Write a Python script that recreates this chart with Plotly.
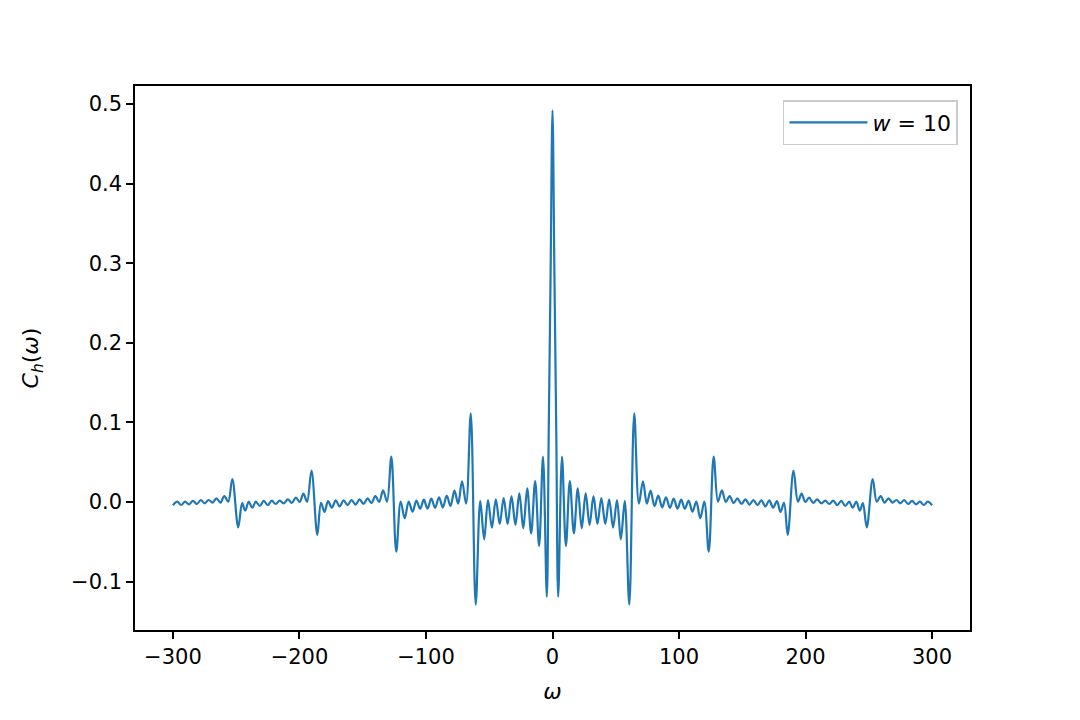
import plotly.graph_objects as go

# Extrema / shape points (omega, C_h(omega))
omega_left = [-300.0, -296.6, -293.5, -290.4, -287.3, -284.2, -281.1, -278.0, -274.9, -271.8, -268.7, -265.6, -262.5, -259.4, -256.3,
              -253.1, -248.4, -245.3, -242.9, -240.1, -237.3, -234.5, -231.4, -228.2, -225.1, -221.9, -218.8, -215.6, -212.5, -209.2, -206.1, -202.8, -199.8, -196.9, -194.0,
              -190.5, -185.9, -183.0, -180.2, -177.4, -174.4, -171.3, -168.3, -165.1, -162.0, -158.8, -155.7, -152.5, -149.4, -146.2, -143.1, -140.0, -137.0, -133.9, -130.8,
              -127.4, -123.5, -120.0, -116.8, -113.7, -110.6, -107.6, -104.6, -101.7, -98.8, -95.8, -92.8, -89.7, -86.7, -83.6, -80.6, -77.5, -74.6, -71.5, -68.3,
              -64.6, -60.7, -57.1, -54.0, -51.0, -47.9, -44.8, -41.7, -38.6, -35.5, -32.4, -29.3, -26.2, -23.1, -20.0, -16.9, -13.7, -10.6, -7.5, -4.5, -3.0, -1.5]
c_left = [-0.004, 0.0004, -0.0038, 0.0004, -0.0029, 0.0013, -0.0025, 0.0025, -0.0017, 0.0025, -0.0008, 0.0046, -0.0008, 0.0075, 0.0004,
          0.0289, -0.0318, -0.0013, -0.0109, 0.0004, -0.0071, 0.0004, -0.005, 0.0013, -0.0038, 0.0017, -0.0025, 0.0017, -0.0017, 0.0034, -0.0012, 0.0054, 0.0, 0.0105, 0.0004,
          0.0393, -0.0415, -0.001, -0.0125, 0.001, -0.007, 0.002, -0.0055, 0.002, -0.004, 0.0025, -0.0033, 0.0034, -0.0025, 0.0046, -0.0013, 0.0075, 0.0, 0.0146, 0.0004,
          0.0569, -0.0624, 0.0004, -0.0205, 0.0004, -0.0122, 0.0017, -0.0085, 0.0030, -0.0084, 0.0042, -0.0075, 0.0059, -0.0067, 0.0079, -0.005, 0.0142, -0.002, 0.026, -0.002,
          0.1114, -0.129, 0.0013, -0.0469, 0.0025, -0.0322, 0.0034, -0.0276, 0.0050, -0.0276, 0.0075, -0.0289, 0.0109, -0.0331, 0.0172, -0.0394, 0.0264, -0.0553, 0.057, -0.119, 0.085, 0.288]

omega_right = [0.0, 1.5, 3.0, 4.5, 7.5, 10.6, 13.7, 16.9, 20.0, 23.1, 26.2, 29.3, 32.4, 35.5, 38.6, 41.7, 44.8, 47.9, 51.0, 54.0, 57.1, 60.7, 64.6,
               68.3, 71.5, 74.6, 77.5, 80.6, 83.6, 86.7, 89.7, 92.8, 95.8, 98.8, 101.7, 104.6, 107.6, 110.6, 113.7, 116.8, 120.0, 123.5, 127.4,
               130.8, 133.9, 137.0, 140.0, 143.1, 146.2, 149.4, 152.5, 155.7, 158.8, 162.0, 165.1, 168.3, 171.3, 174.4, 177.4, 180.2, 183.0, 185.9, 190.5,
               194.0, 196.9, 199.8, 202.8, 206.1, 209.2, 212.5, 215.6, 218.8, 221.9, 225.1, 228.2, 231.4, 234.5, 237.3, 240.1, 242.9, 245.3, 248.4, 253.1,
               256.3, 259.4, 262.5, 265.6, 268.7, 271.8, 274.9, 278.0, 281.1, 284.2, 287.3, 290.4, 293.5, 296.6, 300.0]
c_right = [0.492, 0.288, 0.085, -0.119, 0.057, -0.0553, 0.0264, -0.0394, 0.0172, -0.0331, 0.0109, -0.0289, 0.0075, -0.0276, 0.0050, -0.0276, 0.0034, -0.0322, 0.0025, -0.0469, 0.0013, -0.129, 0.1114,
           -0.002, 0.026, -0.002, 0.0142, -0.005, 0.0079, -0.0067, 0.0059, -0.0075, 0.0042, -0.0084, 0.0030, -0.0085, 0.0017, -0.0122, 0.0004, -0.0205, 0.0004, -0.0624, 0.0569,
           0.0004, 0.0146, 0.0, 0.0075, -0.0013, 0.0046, -0.0025, 0.0034, -0.0033, 0.0025, -0.004, 0.002, -0.0055, 0.002, -0.007, 0.001, -0.0125, -0.001, -0.0415, 0.0393,
           0.0004, 0.0105, 0.0, 0.0054, -0.0012, 0.0034, -0.0017, 0.0017, -0.0025, 0.0017, -0.0038, 0.0013, -0.005, 0.0004, -0.0071, 0.0004, -0.0109, -0.0013, -0.0318, 0.0289,
           0.0004, 0.0075, -0.0008, 0.0046, -0.0008, 0.0025, -0.0017, 0.0025, -0.0025, 0.0013, -0.0029, 0.0004, -0.0038, 0.0004, -0.004]

x_ticks = [-300, -200, -100, 0, 100, 200, 300]
y_ticks = [-0.1, 0.0, 0.1, 0.2, 0.3, 0.4, 0.5]

omega = omega_left + omega_right
c_h = c_left + c_right

FONT = "DejaVu Sans"

fig = go.Figure()
fig.add_trace(go.Scatter(
    x=omega, y=c_h, mode="lines",
    line=dict(color="#1f77b4", width=2.2, shape="spline", smoothing=1.0),
    name="<i>w</i> = 10",
))

axis_common = dict(
    showline=True, linecolor="black", linewidth=1.5, mirror=True,
    ticks="outside", ticklen=7, tickwidth=1.5, tickcolor="black",
    showgrid=False, zeroline=False,
    tickfont=dict(family=FONT, size=21, color="black"),
)

fig.update_xaxes(
    range=[-330, 330], tickvals=x_ticks,
    title=dict(text="<i>ω</i>", font=dict(family=FONT, size=22, color="black"), standoff=16),
    **axis_common,
)
fig.update_yaxes(
    range=[-0.1608, 0.5226], tickvals=y_ticks, tickformat=".1f",
    title=dict(text="<i>C</i><sub><i>h</i></sub>(<i>ω</i>)", font=dict(family=FONT, size=22, color="black"), standoff=26),
    **axis_common,
)

fig.update_layout(
    width=1072, height=712,
    margin=dict(l=127, r=110, t=78, b=90),
    paper_bgcolor="white", plot_bgcolor="white",
    showlegend=True,
    legend=dict(
        x=0.9856, y=0.974, xanchor="right", yanchor="top",
        bordercolor="#cccccc", borderwidth=1.5, bgcolor="rgba(255,255,255,0.8)",
        font=dict(family=FONT, size=22, color="black"),
        itemwidth=78,
    ),
)

fig.write_html("out.html")
